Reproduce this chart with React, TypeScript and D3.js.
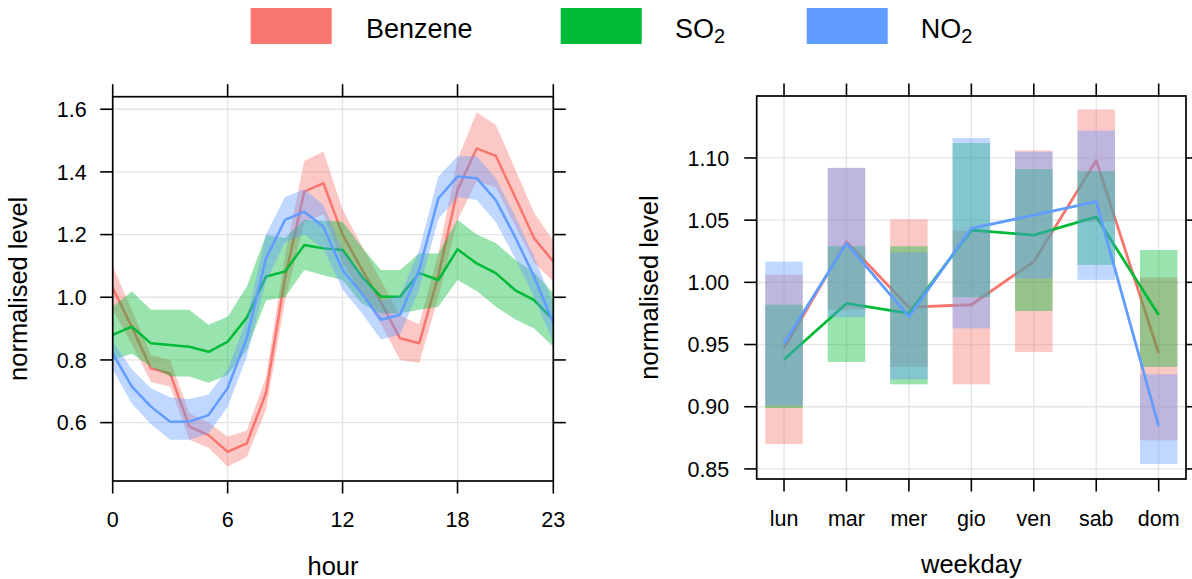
import React from "react";
import * as d3 from "d3";

// ---------- data ----------
const hours = d3.range(0, 24);
const hourTicks = [0, 6, 12, 18, 23];
const hourYTicks = [0.6, 0.8, 1.0, 1.2, 1.4, 1.6];

const benzeneHour = [1.03, 0.905, 0.773, 0.757, 0.587, 0.56, 0.507, 0.534, 0.694, 1.063, 1.337, 1.364, 1.2, 1.09, 0.985, 0.869, 0.853, 1.07, 1.342, 1.475, 1.451, 1.321, 1.188, 1.114];
const benzeneHourLo = [0.96, 0.85, 0.73, 0.715, 0.545, 0.52, 0.46, 0.49, 0.64, 0.99, 1.24, 1.265, 1.11, 1.01, 0.915, 0.80, 0.79, 1.0, 1.245, 1.37, 1.35, 1.23, 1.11, 1.05];
const benzeneHourHi = [1.10, 0.96, 0.815, 0.80, 0.63, 0.60, 0.555, 0.575, 0.745, 1.135, 1.435, 1.465, 1.28, 1.165, 1.055, 0.94, 0.915, 1.14, 1.44, 1.59, 1.55, 1.41, 1.27, 1.18];

const so2Hour = [0.88, 0.906, 0.853, 0.848, 0.842, 0.826, 0.858, 0.935, 1.066, 1.082, 1.167, 1.156, 1.151, 1.066, 1.002, 1.002, 1.077, 1.055, 1.153, 1.108, 1.077, 1.023, 0.991, 0.928];
const so2HourLo = [0.80, 0.82, 0.778, 0.747, 0.747, 0.727, 0.752, 0.832, 0.99, 1.0, 1.087, 1.07, 1.055, 0.98, 0.949, 0.949, 0.96, 0.97, 1.055, 1.02, 0.97, 0.93, 0.9, 0.842];
const so2HourHi = [0.97, 1.018, 0.96, 0.96, 0.96, 0.912, 0.938, 1.034, 1.199, 1.19, 1.247, 1.245, 1.241, 1.16, 1.087, 1.087, 1.14, 1.14, 1.247, 1.2, 1.173, 1.12, 1.08, 1.013];

const no2Hour = [0.821, 0.715, 0.651, 0.603, 0.603, 0.624, 0.71, 0.87, 1.124, 1.247, 1.273, 1.225, 1.087, 1.013, 0.928, 0.944, 1.087, 1.316, 1.385, 1.38, 1.31, 1.193, 1.066, 0.917];
const no2HourLo = [0.77, 0.66, 0.595, 0.545, 0.545, 0.565, 0.65, 0.81, 1.05, 1.175, 1.2, 1.155, 1.025, 0.95, 0.865, 0.88, 1.025, 1.25, 1.32, 1.31, 1.24, 1.125, 1.0, 0.855];
const no2HourHi = [0.86, 0.77, 0.71, 0.68, 0.675, 0.69, 0.77, 0.93, 1.20, 1.32, 1.345, 1.295, 1.15, 1.075, 0.99, 1.005, 1.15, 1.385, 1.45, 1.45, 1.38, 1.26, 1.13, 0.98];

const weekdays = ["lun", "mar", "mer", "gio", "ven", "sab", "dom"];
const weekYTicks = [0.85, 0.9, 0.95, 1.0, 1.05, 1.1];

const benzeneDay = [0.947, 1.0327, 0.98, 0.982, 1.0166, 1.098, 0.943];
const benzeneDayLo = [0.87, 0.978, 0.932, 0.918, 0.944, 1.0487, 0.873];
const benzeneDayHi = [1.006, 1.092, 1.0506, 1.0415, 1.106, 1.139, 1.004];

const so2Day = [0.938, 0.983, 0.975, 1.042, 1.038, 1.0527, 0.9737];
const so2DayLo = [0.899, 0.936, 0.918, 0.988, 0.977, 1.014, 0.932];
const so2DayHi = [0.982, 1.029, 1.029, 1.112, 1.091, 1.0895, 1.026];

const no2Day = [0.951, 1.0313, 0.9724, 1.0434, 1.054, 1.0648, 0.8845];
const no2DayLo = [0.901, 0.972, 0.922, 0.963, 1.003, 1.002, 0.854];
const no2DayHi = [1.0166, 1.092, 1.024, 1.116, 1.105, 1.122, 0.926];

const seriesNames = ["Benzene", "SO", "NO"];
const seriesSubs = ["", "2", "2"];
const colors = ["#F8766D", "#00BA38", "#619CFF"];

// ---------- layout ----------
const FONT = "'Liberation Sans', Arial, sans-serif";
const TICK_FS = 21.5;
const TITLE_FS = 25.5;
const TICK_LEN = 12.5;
const GRID = "#e4e4e4";

const L = { x0: 112.7, x1: 553.3, y0: 96.7, y1: 481 };
const R = { x0: 756.7, x1: 1186, y0: 96, y1: 479 };

export default function App() {
  const xH = d3.scaleLinear().domain([0, 23]).range([L.x0, L.x1]);
  const yH = d3.scaleLinear().domain([0.4137, 1.64]).range([L.y1, L.y0]);
  const xD = d3.scalePoint<string>().domain(weekdays).range([R.x0, R.x1]).padding(0.4375);
  const yD = d3.scaleLinear().domain([0.8419, 1.1498]).range([R.y1, R.y0]);
  const barW = xD.step() * 0.6;

  const hourSeries = [
    { m: benzeneHour, lo: benzeneHourLo, hi: benzeneHourHi },
    { m: so2Hour, lo: so2HourLo, hi: so2HourHi },
    { m: no2Hour, lo: no2HourLo, hi: no2HourHi },
  ];
  const daySeries = [
    { m: benzeneDay, lo: benzeneDayLo, hi: benzeneDayHi },
    { m: so2Day, lo: so2DayLo, hi: so2DayHi },
    { m: no2Day, lo: no2DayLo, hi: no2DayHi },
  ];

  const areaH = (lo: number[], hi: number[]) =>
    d3.area<number>().x((h) => xH(h)).y0((h) => yH(lo[h])).y1((h) => yH(hi[h]))(hours) || "";
  const lineH = (m: number[]) => d3.line<number>().x((h) => xH(h)).y((h) => yH(m[h]))(hours) || "";
  const lineD = (m: number[]) =>
    d3.line<string>().x((d) => xD(d) as number).y((d, i) => yD(m[i]))(weekdays) || "";

  const legendRects = [250.7, 560.7, 806.7];
  const legendTexts = [366, 675, 920.7];

  return (
    <svg width={1192} height={579} style={{ position: "absolute", left: 0, top: 0, background: "#fff" }} fontFamily={FONT}>
      <rect x={0} y={0} width={1192} height={579} fill="#fff" />
      {/* legend */}
      {seriesNames.map((n, i) => (
        <g key={n}>
          <rect x={legendRects[i]} y={8} width={81} height={36} fill={colors[i]} />
          <text x={legendTexts[i]} y={38.3} fontSize={27} fill="#000">
            {n}
            {seriesSubs[i] && (
              <tspan fontSize={20} dy={5}>
                {seriesSubs[i]}
              </tspan>
            )}
          </text>
        </g>
      ))}

      {/* ---------- left panel ---------- */}
      <g>
        {hourYTicks.map((t) => (
          <line key={"gh" + t} x1={L.x0} x2={L.x1} y1={yH(t)} y2={yH(t)} stroke={GRID} strokeWidth={1.3} />
        ))}
        {hourTicks.map((t) => (
          <line key={"gv" + t} x1={xH(t)} x2={xH(t)} y1={L.y0} y2={L.y1} stroke={GRID} strokeWidth={1.3} />
        ))}
        {hourSeries.map((s, i) => (
          <g key={"hs" + i}>
            <path d={areaH(s.lo, s.hi)} fill={colors[i]} fillOpacity={0.4} stroke="none" />
            <path d={lineH(s.m)} fill="none" stroke={colors[i]} strokeWidth={2.5} strokeLinejoin="round" />
          </g>
        ))}
        <rect x={L.x0} y={L.y0} width={L.x1 - L.x0} height={L.y1 - L.y0} fill="none" stroke="#000" strokeWidth={1.7} />
        {hourYTicks.map((t) => (
          <g key={"yt" + t}>
            <line x1={L.x0 - TICK_LEN} x2={L.x0} y1={yH(t)} y2={yH(t)} stroke="#000" strokeWidth={1.6} />
            <line x1={L.x1} x2={L.x1 + TICK_LEN} y1={yH(t)} y2={yH(t)} stroke="#000" strokeWidth={1.6} />
            <text x={86.7} y={yH(t)} dy="0.36em" textAnchor="end" fontSize={TICK_FS}>
              {t.toFixed(1)}
            </text>
          </g>
        ))}
        {hourTicks.map((t) => (
          <g key={"xt" + t}>
            <line x1={xH(t)} x2={xH(t)} y1={L.y1} y2={L.y1 + TICK_LEN} stroke="#000" strokeWidth={1.6} />
            <line x1={xH(t)} x2={xH(t)} y1={L.y0 - TICK_LEN} y2={L.y0} stroke="#000" strokeWidth={1.6} />
            <text x={xH(t)} y={526.7} textAnchor="middle" fontSize={TICK_FS}>
              {t}
            </text>
          </g>
        ))}
        <text x={(L.x0 + L.x1) / 2} y={575} textAnchor="middle" fontSize={TITLE_FS}>
          hour
        </text>
        <text transform={`translate(26.6, ${(L.y0 + L.y1) / 2}) rotate(-90)`} textAnchor="middle" fontSize={TITLE_FS}>
          normalised level
        </text>
      </g>

      {/* ---------- right panel ---------- */}
      <g>
        {weekYTicks.map((t) => (
          <line key={"gh" + t} x1={R.x0} x2={R.x1} y1={yD(t)} y2={yD(t)} stroke={GRID} strokeWidth={1.3} />
        ))}
        {weekdays.map((d) => (
          <line key={"gv" + d} x1={xD(d)} x2={xD(d)} y1={R.y0} y2={R.y1} stroke={GRID} strokeWidth={1.3} />
        ))}
        {daySeries.map((s, i) => (
          <g key={"ds" + i}>
            {weekdays.map((d, j) => (
              <rect
                key={d}
                x={(xD(d) as number) - barW / 2}
                width={barW}
                y={yD(s.hi[j])}
                height={yD(s.lo[j]) - yD(s.hi[j])}
                fill={colors[i]}
                fillOpacity={0.4}
              />
            ))}
            <path d={lineD(s.m)} fill="none" stroke={colors[i]} strokeWidth={2.8} strokeLinejoin="round" />
          </g>
        ))}
        <rect x={R.x0} y={R.y0} width={R.x1 - R.x0} height={R.y1 - R.y0} fill="none" stroke="#000" strokeWidth={1.7} />
        {weekYTicks.map((t) => (
          <g key={"yt" + t}>
            <line x1={R.x0 - TICK_LEN} x2={R.x0} y1={yD(t)} y2={yD(t)} stroke="#000" strokeWidth={1.6} />
            <line x1={R.x1} x2={R.x1 + TICK_LEN} y1={yD(t)} y2={yD(t)} stroke="#000" strokeWidth={1.6} />
            <text x={729.3} y={yD(t)} dy="0.36em" textAnchor="end" fontSize={TICK_FS}>
              {t.toFixed(2)}
            </text>
          </g>
        ))}
        {weekdays.map((d) => (
          <g key={"xt" + d}>
            <line x1={xD(d)} x2={xD(d)} y1={R.y1} y2={R.y1 + TICK_LEN} stroke="#000" strokeWidth={1.6} />
            <line x1={xD(d)} x2={xD(d)} y1={R.y0 - TICK_LEN} y2={R.y0} stroke="#000" strokeWidth={1.6} />
            <text x={xD(d)} y={525.5} textAnchor="middle" fontSize={TICK_FS}>
              {d}
            </text>
          </g>
        ))}
        <text x={(R.x0 + R.x1) / 2} y={573.3} textAnchor="middle" fontSize={TITLE_FS}>
          weekday
        </text>
        <text transform={`translate(658.3, ${(R.y0 + R.y1) / 2}) rotate(-90)`} textAnchor="middle" fontSize={TITLE_FS}>
          normalised level
        </text>
      </g>
    </svg>
  );
}
